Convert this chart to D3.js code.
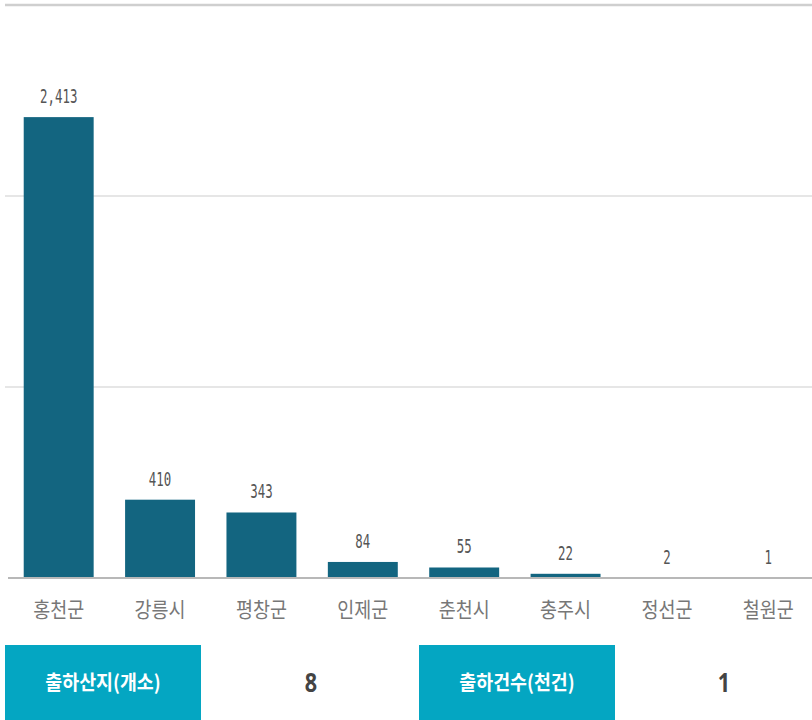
<!DOCTYPE html>
<html><head><meta charset="utf-8">
<script src="https://cdn.jsdelivr.net/npm/d3@7"></script>
<style>body{margin:0;background:#fff;}svg{display:block;}</style>
</head><body>
<svg id="c" width="812" height="720"></svg>
<script>
const categories = ["홍천군","강릉시","평창군","인제군","춘천시","충주시","정선군","철원군"];
const values = [2413,410,343,84,55,22,2,1];
const gridTicks = [1000,2000,3000];
const summaryLabels = ["출하산지(개소)","출하건수(천건)"];
const summaryValues = ["8","1"];

const svg = d3.select("#c");
const x = d3.scaleBand().domain(categories).range([8,819]).paddingInner(0.31).paddingOuter(0.155);
const y = d3.scaleLinear().domain([0,3000]).range([578,5]);
const fmt = d3.format(",");

// gridlines
svg.append("g").selectAll("line").data(gridTicks).join("line")
  .attr("x1",5).attr("x2",812)
  .attr("y1",d=>y(d)).attr("y2",d=>y(d))
  .attr("stroke",d=>d===3000?"#cfcfcf":"#dedede")
  .attr("stroke-width",d=>d===3000?2.5:1.5);

// bars
svg.append("g").selectAll("rect").data(values).join("rect")
  .attr("x",(d,i)=>x(categories[i]))
  .attr("width",x.bandwidth())
  .attr("y",d=>y(d))
  .attr("height",d=>Math.max(0,y(0)-y(d)))
  .attr("fill","#136580");

// baseline
svg.append("line").attr("x1",8).attr("x2",812).attr("y1",y(0)).attr("y2",y(0))
  .attr("stroke","#b8b8b8").attr("stroke-width",2);

// value labels
svg.append("g").selectAll("text").data(values).join("text")
  .attr("transform",(d,i)=>`translate(${x(categories[i])+x.bandwidth()/2},${y(d)-14}) scale(0.62,1)`)
  .attr("text-anchor","middle")
  .attr("font-family","DejaVu Sans Mono")
  .attr("font-size",20)
  .attr("fill","#555")
  .text(d=>fmt(d));

// x axis labels
svg.append("g").selectAll("text").data(categories).join("text")
  .attr("transform",d=>`translate(${x(d)+x.bandwidth()/2},${y(0)+32}) scale(0.88,1)`)
  .attr("text-anchor","middle").attr("dy","0.35em")
  .attr("font-family","Noto Sans CJK KR").attr("font-size",21)
  .attr("fill","#777")
  .text(d=>d);

// summary boxes
const boxX = [5,419];
const valX = [311,724];
const g = svg.append("g");
g.selectAll("rect").data(summaryLabels).join("rect")
  .attr("x",(d,i)=>boxX[i]).attr("y",645).attr("width",196).attr("height",80)
  .attr("fill","#04a6c2");
g.selectAll("text.lab").data(summaryLabels).join("text").attr("class","lab")
  .attr("transform",(d,i)=>`translate(${boxX[i]+98},683) scale(0.92,1)`)
  .attr("dy","0.35em")
  .attr("text-anchor","middle").attr("font-family","Noto Sans CJK KR")
  .attr("font-weight","bold").attr("font-size",20).attr("fill","#fff")
  .text(d=>d);
g.selectAll("text.val").data(summaryValues).join("text").attr("class","val")
  .attr("transform",(d,i)=>`translate(${valX[i]},682) scale(0.8,1)`)
  .attr("dy","0.36em")
  .attr("text-anchor","middle").attr("font-family","Noto Sans")
  .attr("font-weight","bold").attr("font-size",27).attr("fill","#444")
  .text(d=>d);
</script>
</body></html>
